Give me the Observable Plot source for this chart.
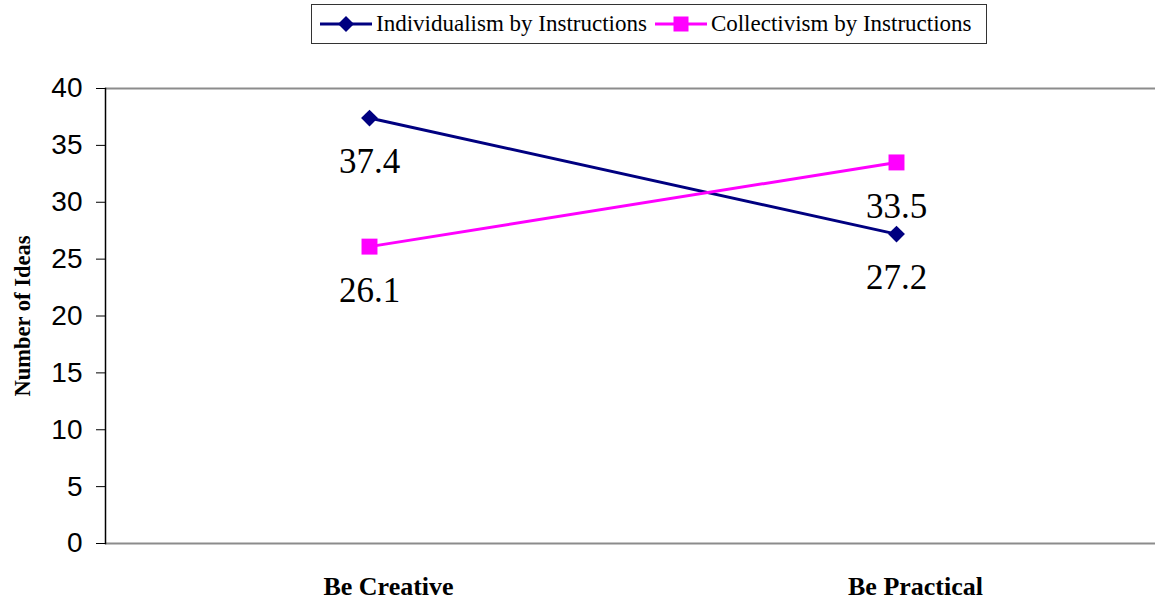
<!DOCTYPE html>
<html>
<head>
<meta charset="utf-8">
<script src="https://cdn.jsdelivr.net/npm/d3@7"></script>
<script src="https://cdn.jsdelivr.net/npm/@observablehq/plot@0.6"></script>
<style>
  html, body { margin: 0; padding: 0; background: #fff; }
  #wrap { position: relative; width: 1155px; height: 610px; overflow: hidden; }
  #legend { position: absolute; left: 311px; top: 4px; width: 674px; height: 38px; border: 1px solid #333;
            display: flex; align-items: center; font-family: "Liberation Serif", "Times New Roman", serif;
            font-size: 23px; color: #000; box-sizing: content-box; }
  #legend .item { display: flex; align-items: center; margin-left: 8px; }
  #legend svg { margin-right: 4px; }
  #chart { position: absolute; left: 0; top: 50px; }
</style>
</head>
<body>
<div id="wrap">
  <div id="legend"></div>
  <div id="chart"></div>
</div>
<script>
const categories = ["Be Creative", "Be Practical"];
const seriesNames = ["Individualism by Instructions", "Collectivism by Instructions"];
const individualism = [37.4, 27.2];
const collectivism = [26.1, 33.5];
const yTicks = [0, 5, 10, 15, 20, 25, 30, 35, 40];
const yLabel = "Number of Ideas";

const colors = ["#000080", "#ff00ff"];
const symbols = ["diamond2", "square"];
const radii = [7.6, 9];

const seriesValues = [individualism, collectivism];
const data = seriesNames.flatMap((s, i) =>
  categories.map((c, j) => ({series: s, cat: c, value: seriesValues[i][j], idx: i})));

// Legend (HTML)
const legend = document.getElementById("legend");
seriesNames.forEach((s, i) => {
  const item = document.createElement("div");
  item.className = "item";
  const marker = i === 0
    ? `<path d="M26,2 L34,10 L26,18 L18,10 Z" fill="${colors[i]}"/>`
    : `<rect x="18.5" y="2.5" width="15" height="15" fill="${colors[i]}"/>`;
  item.innerHTML = `<svg width="52" height="20"><line x1="0" x2="52" y1="10" y2="10" stroke="${colors[i]}" stroke-width="3"/>${marker}</svg><span>${s}</span>`;
  legend.appendChild(item);
});

const serif = "'Liberation Serif', 'Times New Roman', serif";
const sans = "'Liberation Sans', Arial, sans-serif";

const marks = [
  Plot.ruleY([0, 40], {stroke: "#8c8c8c", strokeWidth: 2}),
  Plot.frame({anchor: "left", stroke: "#000", strokeWidth: 1.5}),
  Plot.axisY({ticks: yTicks, tickSize: 9, tickPadding: 14, fontSize: 28, fontFamily: sans, label: null, stroke: "#000", color: "#000"}),
  Plot.axisX({tickSize: 0, tickPadding: 33, fontSize: 26, fontWeight: "bold", fontFamily: serif, label: null, dx: 19, color: "#000"}),
  Plot.text([yLabel], {frameAnchor: "left", textAnchor: "middle", lineAnchor: "middle", rotate: -90, dx: -83, fontSize: 22.5, fontWeight: "bold", fontFamily: serif, fill: "#000"}),
];
seriesNames.forEach((s, i) => {
  const d = data.filter(r => r.idx === i);
  marks.push(Plot.line(d, {x: "cat", y: "value", stroke: colors[i], strokeWidth: 3}));
  marks.push(Plot.dot(d, {x: "cat", y: "value", symbol: () => symbols[i], r: radii[i], fill: colors[i], stroke: "none"}));
});
marks.push(Plot.text(data, {x: "cat", y: "value", text: d => d.value.toFixed(1), dy: 44, fontSize: 35, fontFamily: serif, fill: "#000"}));

const chart = Plot.plot({
  width: 1155,
  height: 560,
  marginTop: 38,
  marginBottom: 67,
  marginLeft: 105,
  marginRight: 0,
  style: {background: "transparent", overflow: "visible"},
  x: {type: "point", domain: categories, range: [369, 896], padding: 0},
  y: {domain: [0, 40]},
  symbol: {type: "identity"},
  marks
});
document.getElementById("chart").appendChild(chart);
</script>
</body>
</html>
